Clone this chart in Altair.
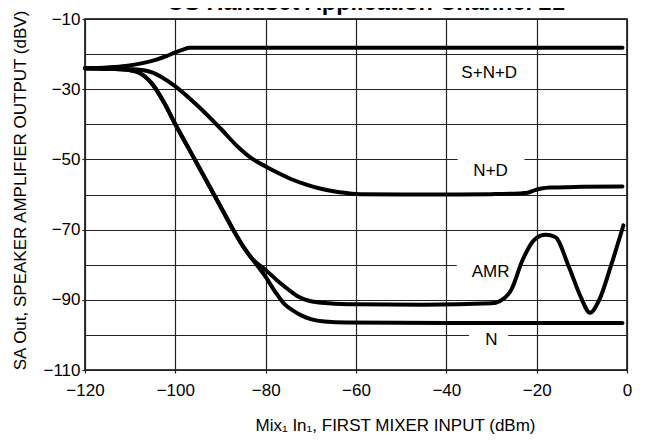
import altair as alt
import pandas as pd

# ---- text ----
chart_title = "US Handset Application Channel 21"
x_title = "Mix\u2081 In\u2081, FIRST MIXER INPUT (dBm)"
y_title = "SA Out, SPEAKER AMPLIFIER OUTPUT (dBV)"

# ---- axes ----
x_ticks = [-120, -100, -80, -60, -40, -20, 0]
y_ticks = [-110, -100, -90, -80, -70, -60, -50, -40, -30, -20, -10]

# ---- series ----
snd_x = [-120, -115, -111, -107, -104, -102, -100, -98, -97, -90, -60, -30, -1]
snd_y = [-24.0, -23.8, -23.4, -22.5, -21.5, -20.6, -19.5, -18.6, -18.2, -18.2, -18.2, -18.2, -18.2]

nd_x = [-120, -114, -110, -107, -105, -103, -100, -95, -90, -86, -83, -80, -77, -74, -71, -68,
        -65, -62, -59, -50, -40, -30, -24, -22, -20.5, -19, -17, -10, -1]
nd_y = [-24.0, -24.1, -24.3, -24.6, -25.3, -26.6, -29.2, -34.8, -41.2, -46.6, -49.8, -52.0,
        -54.0, -55.8, -57.2, -58.3, -59.1, -59.6, -59.9, -60.0, -60.0, -59.9, -59.7, -59.5,
        -58.8, -58.3, -58.0, -57.8, -57.7]

amr_x = [-120, -114, -110, -108, -105.3, -102.5, -100, -97, -94, -90, -87, -85, -83, -80, -77,
         -74, -72.5, -70, -66, -60, -45, -30, -28.2, -25.6, -23.1, -20.5, -18, -15.9, -12.9,
         -10.3, -8.2, -6.1, -3.6, -0.8]
amr_y = [-24.0, -24.2, -24.6, -25.3, -28.2, -33.8, -40.0, -47.0, -54.0, -63.4, -70.5, -74.8,
         -78.3, -81.5, -85.0, -88.0, -89.3, -90.4, -91.0, -91.3, -91.4, -91.0, -90.4, -87.1,
         -78.6, -72.9, -71.5, -72.1, -80.5, -89.0, -93.7, -89.9, -80.5, -68.8]

n_x = [-120, -114, -110, -108, -105.3, -102.5, -100, -97, -94, -90, -87, -85, -83, -80, -78,
       -76, -74, -72, -70, -67, -62, -40, -1]
n_y = [-24.0, -24.2, -24.6, -25.3, -28.2, -33.8, -40.0, -47.0, -54.0, -63.4, -70.5, -74.8,
       -78.3, -83.5, -87.5, -91.0, -93.0, -94.5, -95.5, -96.2, -96.5, -96.6, -96.6]

# ---- curve labels ----
label_text = ["S+N+D", "N+D", "AMR", "N"]
label_x = [-30.5, -30.2, -30.2, -30.0]
label_y = [-25.3, -53.4, -82.1, -101.4]

# white boxes behind labels that interrupt gridlines
box_x = [-37.5, -37.7, -35.0]
box_x2 = [-22.7, -23.3, -26.3]
box_y = [-47.5, -77.5, -98.2]
box_y2 = [-56.5, -86.0, -104.5]

FONT = "Liberation Sans"

rows = []
for name, xs, ys in [("S+N+D", snd_x, snd_y), ("N+D", nd_x, nd_y),
                     ("AMR", amr_x, amr_y), ("N", n_x, n_y)]:
    for xv, yv in zip(xs, ys):
        rows.append({"series": name, "x": xv, "y": yv})
df_lines = pd.DataFrame(rows)
df_labels = pd.DataFrame({"text": label_text, "x": label_x, "y": label_y})
df_boxes = pd.DataFrame({"x": box_x, "x2": box_x2, "y": box_y, "y2": box_y2})
df_title = pd.DataFrame({"text": [chart_title]})

x_scale = alt.Scale(domain=[-120, 0], nice=False, zero=False)
y_scale = alt.Scale(domain=[-110, -10], nice=False, zero=False)

x_axis = alt.Axis(
    values=x_ticks, grid=True, gridColor="#222", gridWidth=1.2, domain=False,
    ticks=True, tickSize=3, tickColor="#222", tickWidth=1.2,
    labelExpr="replace(datum.label, '-', '\u2212')", labelFlush=False,
    labelFont=FONT, labelFontSize=17, labelColor="black", labelPadding=9,
    title=x_title, titleFont=FONT, titleFontSize=17, titleFontWeight="normal",
    titleColor="black", titleX=310, titleY=60, titleAlign="center",
    titleBaseline="alphabetic",
)
y_axis = alt.Axis(
    values=y_ticks, grid=True, gridColor="#222", gridWidth=1.2, domain=False,
    ticks=True, tickSize=3, tickColor="#222", tickWidth=1.2,
    tickOpacity={"condition": {"test": "datum.value % 20 == 0", "value": 0}, "value": 1},
    labelExpr="datum.value % 20 == 0 ? '' : replace(datum.label, '-', '\u2212')",
    labelFlush=False, labelOverlap=False,
    labelFont=FONT, labelFontSize=17, labelColor="black", labelPadding=2,
    title=y_title, titleFont=FONT, titleFontSize=17, titleFontWeight="normal",
    titleColor="black", titleX=-60, titleY=171, titleAngle=-90, titleAlign="center",
    titleBaseline="alphabetic",
)

boxes = alt.Chart(df_boxes).mark_rect(color="white").encode(
    x=alt.X("x:Q", scale=x_scale, axis=x_axis),
    x2="x2:Q",
    y=alt.Y("y:Q", scale=y_scale, axis=y_axis),
    y2="y2:Q",
)

lines = alt.Chart(df_lines).mark_line(
    color="black", strokeWidth=4, interpolate="monotone", strokeCap="round"
).encode(
    x=alt.X("x:Q", scale=x_scale, axis=x_axis),
    y=alt.Y("y:Q", scale=y_scale, axis=y_axis),
    detail="series:N",
)

labels = alt.Chart(df_labels).mark_text(
    font=FONT, fontSize=17, color="black", align="center", baseline="middle"
).encode(
    x=alt.X("x:Q", scale=x_scale, axis=x_axis),
    y=alt.Y("y:Q", scale=y_scale, axis=y_axis),
    text="text:N",
)

# chart title (partly above the top edge, as in the reference)
title_mark = alt.Chart(df_title).mark_text(
    font=FONT, fontSize=23.5, fontWeight="bold", color="black",
    align="center", baseline="alphabetic",
).encode(
    x=alt.value(281),
    y=alt.value(-9),
    text="text:N",
)

chart = alt.layer(boxes, lines, labels, title_mark).properties(
    width=542,
    height=351,
    autosize=alt.AutoSizeParams(type="none"),
    padding={"left": 77, "top": 11, "right": 10, "bottom": 64},
).configure_view(stroke="black", strokeWidth=1.5)

chart.save("out.html", embed_options={"renderer": "svg", "actions": False})
